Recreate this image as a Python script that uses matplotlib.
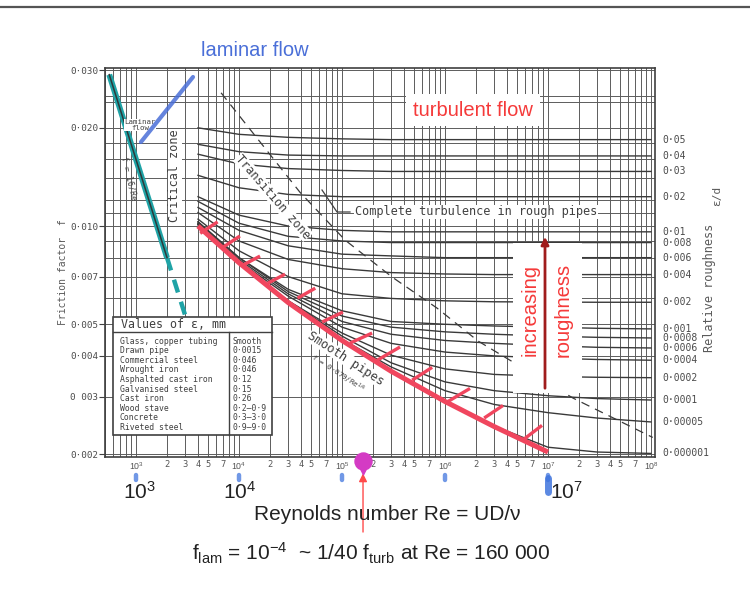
import matplotlib.pyplot as plt
import matplotlib.transforms as mtransforms
from matplotlib.lines import Line2D
from matplotlib.patches import FancyArrowPatch, Rectangle
from matplotlib.ticker import FixedLocator, FuncFormatter, NullFormatter

plt.rcParams["font.family"] = "DejaVu Sans Mono"
plt.rcParams["mathtext.fontset"] = "custom"
plt.rcParams["mathtext.rm"] = "Liberation Sans"
plt.rcParams["mathtext.it"] = "Liberation Sans:italic"
plt.rcParams["mathtext.bf"] = "Liberation Sans:bold"

# ---- values (Fanning friction factor) ----
re_grid = [4e3, 1e4, 3e4, 1e5, 3e5, 1e6, 3e6, 1e7, 3e7, 1e8]

f_r05 = [0.0200, 0.0191, 0.0187, 0.0185, 0.0184, 0.0184, 0.0184, 0.0184, 0.0184, 0.0184]
f_r04 = [0.0178, 0.0169, 0.0165, 0.0164, 0.0164, 0.0164, 0.0164, 0.0164, 0.0164, 0.0164]
f_r03 = [0.0166, 0.0155, 0.0150, 0.0148, 0.0147, 0.0147, 0.0147, 0.0147, 0.0147, 0.0147]
f_r02 = [0.0143, 0.0131, 0.0125, 0.0123, 0.0123, 0.0123, 0.0123, 0.0123, 0.0123, 0.0123]
f_r01 = [0.0123, 0.0108, 0.0100, 0.0097, 0.0096, 0.0096, 0.0096, 0.0096, 0.0096, 0.0096]
f_r008 = [0.0119, 0.0102, 0.0093, 0.0090, 0.0089, 0.0089, 0.0089, 0.0089, 0.0089, 0.0089]
f_r006 = [0.0114, 0.0097, 0.0087, 0.0082, 0.0081, 0.0080, 0.0080, 0.0080, 0.0080, 0.0080]
f_r004 = [0.0110, 0.0090, 0.0079, 0.0074, 0.0072, 0.00713, 0.0071, 0.0071, 0.0071, 0.0071]
f_r002 = [0.0105, 0.0084, 0.0070, 0.0062, 0.0060, 0.0059, 0.00586, 0.00585, 0.00584, 0.00584]
f_r001 = [0.0103, 0.0080, 0.0064, 0.0055, 0.0051, 0.0050, 0.00494, 0.00490, 0.00486, 0.00484]
f_r0008 = [0.0103, 0.0080, 0.0063, 0.0053, 0.0049, 0.00474, 0.00466, 0.00460, 0.00456, 0.00454]
f_r0006 = [0.0102, 0.0079, 0.0062, 0.0051, 0.00466, 0.00446, 0.00437, 0.00430, 0.00425, 0.00423]
f_r0004 = [0.0102, 0.0078, 0.0061, 0.0049, 0.00437, 0.00411, 0.00400, 0.00394, 0.00390, 0.00388]
f_r0002 = [0.0101, 0.0078, 0.0059, 0.0047, 0.00402, 0.00365, 0.00351, 0.00346, 0.00344, 0.00343]
f_r0001 = [0.0101, 0.0077, 0.0059, 0.0046, 0.00381, 0.00333, 0.00313, 0.00302, 0.00296, 0.00293]
f_r00005 = [0.0101, 0.0077, 0.0058, 0.0045, 0.00370, 0.00313, 0.00284, 0.00268, 0.00258, 0.00251]
f_r000001 = [0.0101, 0.0077, 0.0058, 0.00446, 0.00359, 0.00290, 0.00244, 0.00210, 0.00203, 0.00201]

rough_labels = ["0·05", "0·04", "0·03", "0·02", "0·01", "0·008", "0·006", "0·004", "0·002",
                "0·001", "0·0008", "0·0006", "0·0004", "0·0002", "0·0001", "0·00005", "0·000001"]

smooth_re = [4e3, 1e4, 3e4, 1e5, 3e5, 1e6, 3e6, 1e7]
smooth_f = [0.0100, 0.00772, 0.00583, 0.00446, 0.00359, 0.00290, 0.00243, 0.00203]

lam_re = [550, 2000]
lam_f = [0.0291, 0.0080]
lam_dash_re = [2000, 3000]
lam_dash_f = [0.0080, 0.00533]

trans_re = [6.7e3, 3.9e4, 1.07e5, 3.06e5, 8.4e5, 2.1e6, 1.75e7, 1.04e8]
trans_f = [0.0256, 0.0127, 0.00906, 0.00698, 0.0056, 0.00444, 0.00297, 0.00225]

# red hand-drawn hatch strokes off the smooth-pipe line
hatch_re0 = [4.2e3, 6.8e3, 1.09e4, 1.9e4, 3.7e4, 6.4e4, 1.2e5, 2.2e5, 4.8e5, 1.07e6, 2.4e6, 5.7e6]
hatch_f0 = [0.0095, 0.00856, 0.00759, 0.00668, 0.00601, 0.00508, 0.00438, 0.00388, 0.00337, 0.00290, 0.00258, 0.00221]
hatch_re1 = [6.2e3, 1.02e4, 1.6e4, 2.8e4, 5.5e4, 1.02e5, 1.96e5, 3.66e5, 7.5e5, 1.75e6, 3.66e6, 8.75e6]
hatch_f1 = [0.0103, 0.00932, 0.00809, 0.00712, 0.00645, 0.00545, 0.00470, 0.00426, 0.00369, 0.00318, 0.00282, 0.00245]

f_ticks = [0.030, 0.020, 0.010, 0.007, 0.005, 0.004, 0.003, 0.002]
f_tick_labels = ["0·030", "0·020", "0·010", "0·007", "0·005", "0·004", "0 003", "0·002"]
f_grid = [0.030, 0.025, 0.024, 0.020, 0.018, 0.016, 0.014, 0.012, 0.011, 0.010, 0.009,
          0.008, 0.007, 0.006, 0.005, 0.004, 0.003, 0.002]
re_decades = [1e3, 1e4, 1e5, 1e6, 1e7, 1e8]
re_decade_labels = [r"$10^{3}$", r"$10^{4}$", r"$10^{5}$", r"$10^{6}$", r"$10^{7}$", r"$10^{8}$"]

materials = ["Glass, copper tubing", "Drawn pipe", "Commercial steel", "Wrought iron",
             "Asphalted cast iron", "Galvanised steel", "Cast iron", "Wood stave",
             "Concrete", "Riveted steel"]
eps_mm = ["Smooth", "0·0015", "0·046", "0·046", "0·12", "0·15", "0·26",
          "0·2–0·9", "0·3–3·0", "0·9–9·0"]

re_marked = 1.6e5

W, H = 750, 593
GRAY = "#404040"
RED = "#f0465e"
BLUE = "#4a6fd8"


def px(x, y):
    return x / W, 1 - y / H


fig = plt.figure(figsize=(W / 100, H / 100), dpi=100)
ax = fig.add_axes([105 / W, 1 - 457 / H, 550 / W, 389 / H])
ax.set_xscale("log")
ax.set_yscale("log")
ax.set_xlim(500, 1.094e8)
ax.set_ylim(0.00196, 0.0305)
ax.set_axisbelow(True)

# grid
minor_x = [m * 10.0 ** e for e in range(2, 8) for m in range(2, 10) if 500 <= m * 10.0 ** e <= 1.1e8]
ax.xaxis.set_major_locator(FixedLocator(re_decades))
ax.xaxis.set_major_formatter(FuncFormatter(lambda v, p: re_decade_labels[re_decades.index(v)]))
ax.xaxis.set_minor_locator(FixedLocator(minor_x))


def minor_label(v, p):
    if v < 1000:
        return ""
    m = int(round(v / 10 ** int(f"{v:e}".split("e")[1])))
    return str(m) if m in (2, 3, 4, 5, 7) else ""


ax.xaxis.set_minor_formatter(FuncFormatter(minor_label))
ax.yaxis.set_major_locator(FixedLocator(f_ticks))
ax.yaxis.set_major_formatter(FuncFormatter(lambda v, p: f_tick_labels[p] if p < len(f_tick_labels) else ""))
ax.yaxis.set_minor_locator(FixedLocator(f_grid))
ax.yaxis.set_minor_formatter(NullFormatter())
ax.grid(which="both", color="#5c5c5c", linewidth=0.7)
ax.tick_params(axis="x", which="both", length=0, pad=2.5, labelsize=6.3, labelcolor="#555555")
ax.tick_params(axis="y", which="major", direction="out", length=4, color=GRAY,
               labelsize=6.7, labelcolor="#4a4a4a", pad=1)
ax.tick_params(axis="y", which="minor", length=0)
for sp in ax.spines.values():
    sp.set_color(GRAY)
    sp.set_linewidth(1.2)

# roughness curves
rough_curves = [f_r05, f_r04, f_r03, f_r02, f_r01, f_r008, f_r006, f_r004, f_r002,
                f_r001, f_r0008, f_r0006, f_r0004, f_r0002, f_r0001, f_r00005, f_r000001]
right_tr = mtransforms.blended_transform_factory(ax.transAxes, ax.transData)
for curve, label in zip(rough_curves, rough_labels):
    ax.plot(re_grid, curve, color="#3a3a3a", linewidth=1.0, zorder=2)
    ax.text(1.013, curve[-1], label, transform=right_tr, ha="left", va="center",
            fontsize=7, color="#4a4a4a", clip_on=False)

ax.plot(trans_re, trans_f, color="#3a3a3a", linewidth=0.9, dashes=(7, 5), zorder=2)

# smooth pipes (red) and hatch marks
ax.plot(smooth_re, smooth_f, color=RED, linewidth=3.6, solid_capstyle="butt", zorder=4)
for r0, f0, r1, f1 in zip(hatch_re0, hatch_f0, hatch_re1, hatch_f1):
    ax.plot([r0, r1], [f0, f1], color=RED, linewidth=2.4, solid_capstyle="butt", zorder=4)

# laminar line
ax.plot(lam_re, lam_f, color="#1fa3a6", linewidth=4.2, solid_capstyle="butt", zorder=4)
ax.plot(lam_re, lam_f, color="#2c3a3a", linewidth=1.1, zorder=5)
ax.plot(lam_dash_re, lam_dash_f, color="#1fa3a6", linewidth=3.2, dashes=(3, 2.2), zorder=4)

# ---- chart annotations ----
def ftext(x, y, s, **kw):
    return fig.text(*px(x, y), s, **kw)


white = dict(facecolor="white", edgecolor="none", pad=0.6)
ftext(140, 125, "Laminar\nflow", fontsize=5.3, ha="center", va="center", color=GRAY,
      linespacing=1.0, bbox=dict(facecolor="white", edgecolor="none", pad=0.3), zorder=3)
ftext(129, 178, "f = 16/Re", fontsize=6, rotation=-77, ha="center", va="center", color=GRAY)
ftext(175, 176, "Critical zone", fontsize=8.5, rotation=90, ha="center", va="center",
      color=GRAY, bbox=white)
ftext(273, 197, "Transition zone", fontsize=8.6, rotation=-49, ha="center", va="center",
      color=GRAY, bbox=dict(facecolor="white", edgecolor="none", pad=0.2))
ftext(476, 212, "Complete turbulence in rough pipes", fontsize=8.6, ha="center", va="center",
      color=GRAY, bbox=dict(facecolor="white", edgecolor="none", pad=0.5))
fig.add_artist(Line2D([px(322, 190)[0], px(337, 212)[0], px(350, 212)[0]],
                      [px(322, 190)[1], px(337, 212)[1], px(350, 212)[1]], color=GRAY, lw=0.9))
ftext(346, 359, "Smooth pipes", fontsize=8.8, rotation=-33, ha="center", va="center",
      color=GRAY, bbox=dict(facecolor="white", edgecolor="none", pad=0.1), zorder=3)
ftext(338, 374, r"f = 0·079/Re$^{1/4}$", fontsize=5.3, rotation=-33, ha="center",
      va="center", color=GRAY)

# values table
fig.add_artist(Rectangle(px(113, 435), 159 / W, 118 / H, transform=fig.transFigure,
                         facecolor="white", edgecolor=GRAY, linewidth=1.2, zorder=2))
fig.add_artist(Line2D([px(113, 0)[0], px(272, 0)[0]], [px(0, 332)[1]] * 2, color=GRAY, lw=1.0, zorder=3))
fig.add_artist(Line2D([px(229, 0)[0]] * 2, [px(0, 332)[1], px(0, 435)[1]], color=GRAY, lw=1.0, zorder=3))
ftext(121, 325, "Values of ε, mm", fontsize=8.4, ha="left", va="center", color=GRAY, zorder=3)
for i, (mat, eps) in enumerate(zip(materials, eps_mm)):
    yy = 341 + i * 9.6
    ftext(120, yy, mat, fontsize=5.9, ha="left", va="center", color=GRAY, zorder=3)
    ftext(233, yy, eps, fontsize=5.9, ha="left", va="center", color=GRAY, zorder=3)

# axis titles
ftext(63, 272, "Friction factor  f", fontsize=7, rotation=90, ha="center", va="center",
      color="#5a5a5a")
ftext(710, 288, "Relative roughness", fontsize=8.6, rotation=90, ha="center", va="center",
      color="#5a5a5a")
ftext(717, 196, "ε/d", fontsize=8, rotation=90, ha="center", va="center", color="#5a5a5a")

# ---- colour overlays from the lecture slide ----
ftext(255, 50, "laminar flow", fontsize=14.5, family="Liberation Sans", color=BLUE,
      ha="center", va="center")
fig.add_artist(Line2D([px(141, 142)[0], px(193, 77)[0]], [px(141, 142)[1], px(193, 77)[1]],
                      color=BLUE, lw=3, alpha=0.85, solid_capstyle="round", zorder=5))
ftext(473, 110, "turbulent flow", fontsize=14.5, family="Liberation Sans", color="#f53a3a",
      ha="center", va="center", bbox=dict(facecolor="white", edgecolor="none", pad=5))

fig.add_artist(Rectangle(px(513, 393), 69 / W, 150 / H, transform=fig.transFigure,
                         facecolor="white", edgecolor="none", zorder=2))
ftext(530, 310, "increasing", fontsize=14.5, family="Liberation Sans", color="#f53a3a",
      rotation=90, ha="center", va="center", zorder=3)
ftext(563, 310, "roughness", fontsize=14.5, family="Liberation Sans", color="#f53a3a",
      rotation=90, ha="center", va="center", zorder=3)
fig.add_artist(FancyArrowPatch(px(545, 391), px(545, 234), transform=fig.transFigure,
                               arrowstyle="-|>", mutation_scale=11, color="#a01c1c",
                               linewidth=2.0, zorder=4))

# bottom axis overlay
ftext(139, 492, r"$10^{3}$", fontsize=15, color="#222222", ha="center", va="center")
ftext(240, 492, r"$10^{4}$", fontsize=15, color="#222222", ha="center", va="center")
ftext(566, 492, r"$10^{7}$", fontsize=15, color="#222222", ha="center", va="center")

below_tr = mtransforms.blended_transform_factory(ax.transData, ax.transAxes)
for dec in re_decades[:5]:
    ax.plot([dec, dec], [-0.045, -0.06], transform=below_tr, color="#4d7fe0", lw=3.2,
            alpha=0.8, clip_on=False, solid_capstyle="round")
ax.plot([re_decades[4]] * 2, [-0.055, -0.09], transform=below_tr, color="#3f74dd", lw=5,
        alpha=0.85, clip_on=False, solid_capstyle="round")

ax.scatter([re_marked], [-0.01], transform=below_tr, s=150, color="#d43bc4", clip_on=False, zorder=6)
ax.scatter([re_marked], [-0.03], transform=below_tr, s=60, marker="v", color="#d43bc4",
           clip_on=False, zorder=6)
ax.annotate("", xy=(re_marked, -0.035), xycoords=below_tr, xytext=(re_marked, -0.20),
            textcoords=below_tr, arrowprops=dict(arrowstyle="-|>", color="#ff4a4a", lw=1.0,
                                                 mutation_scale=12), annotation_clip=False)

ftext(387, 515, "Reynolds number Re = UD/ν", fontsize=15, family="Liberation Sans",
      color="#222222", ha="center", va="center")
ftext(371, 553, r"f$_{\mathrm{lam}}$ = 10$^{-4}$  ~ 1/40 f$_{\mathrm{turb}}$ at Re = 160 000",
      fontsize=15, family="Liberation Sans", color="#222222", ha="center", va="center")

# slide border
fig.add_artist(Line2D([0, 1], [px(0, 7)[1]] * 2, color="#555555", lw=1.6))

fig.savefig("out.png", dpi=100)
